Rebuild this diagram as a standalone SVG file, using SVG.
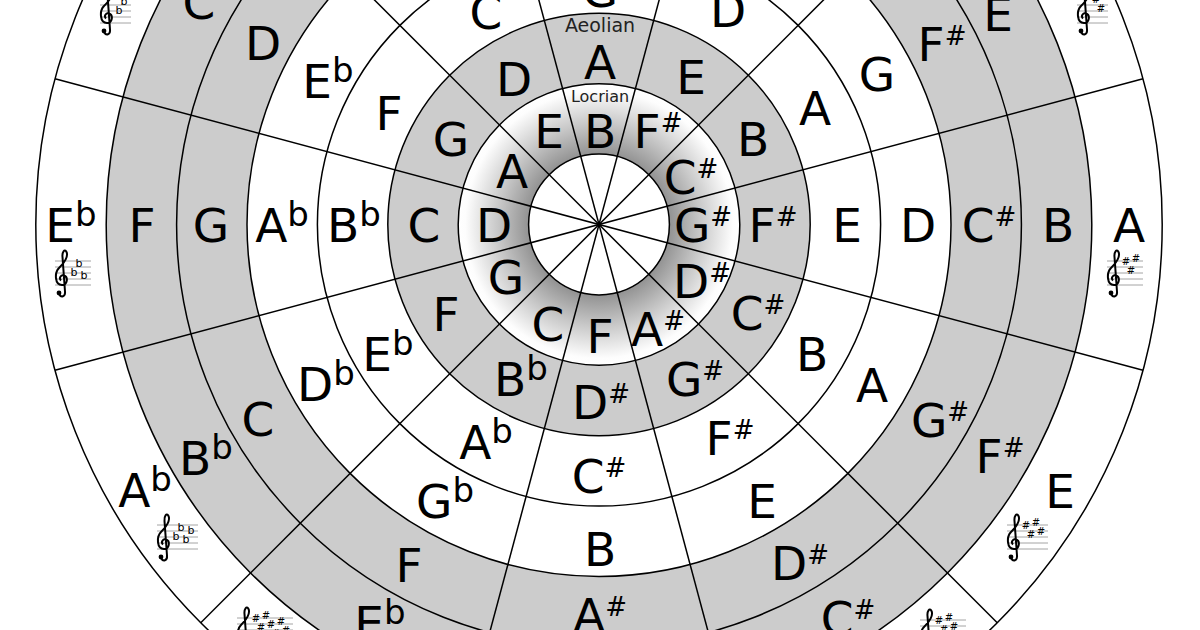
<svg xmlns="http://www.w3.org/2000/svg" width="1200" height="630" viewBox="0 0 1200 630">
<style>
.n{font-family:"DejaVu Sans","Liberation Sans",sans-serif;font-size:47px;text-anchor:middle;fill:#000}
.s{font-size:26px}
.f{font-size:34px}
.mode{font-family:"DejaVu Sans","Liberation Sans",sans-serif;text-anchor:middle;fill:#222}
.ring{fill:none;stroke:#000;stroke-width:1.5}
.spoke{stroke:#000;stroke-width:1.5;fill:none}
.st{stroke:#9a9a9a;stroke-width:0.9}
.acc{font-family:"DejaVu Sans","Liberation Sans",sans-serif;font-size:10px;text-anchor:middle;fill:#000}
.accb{font-family:"DejaVu Sans","Liberation Sans",sans-serif;font-size:11px;text-anchor:middle;fill:#000}
</style>
<defs>
<radialGradient id="loc" gradientUnits="userSpaceOnUse" cx="599" cy="224.5" r="140.8">
<stop offset="0" stop-color="#8e8e8e"/>
<stop offset="0.5" stop-color="#929292"/>
<stop offset="0.72" stop-color="#c8c8c8"/>
<stop offset="0.95" stop-color="#fdfdfd"/>
<stop offset="1" stop-color="#fff"/>
</radialGradient>
<g id="clef">
<path d="M4,21 C6,25 10.5,24 10,18.5 L7.5,-16 C7,-21 9.5,-24.5 11.5,-21 C13.5,-17 9.5,-10 4,-5 C-0.5,-0.5 -0.5,12 7,12 C12.5,12 13.5,4 9,2.5 C6,1.5 3.5,5 6,7.5" fill="none" stroke="#000" stroke-width="2"/>
<circle cx="4" cy="20" r="2.4" fill="#000"/>
</g>
</defs>
<rect width="1200" height="630" fill="#fff"/>
<g id="fills">
<circle cx="599" cy="224.5" r="492.8" fill="#ccc"/>
<circle cx="599" cy="224.5" r="352" fill="#fff"/>
<circle cx="599" cy="224.5" r="211.2" fill="#ccc"/>
<circle cx="599" cy="224.5" r="140.8" fill="url(#loc)"/>
<circle cx="599" cy="224.5" r="70.4" fill="#fff"/>
</g>
<g id="rings">
<circle class="ring" cx="599" cy="224.5" r="70.4"/>
<circle class="ring" cx="599" cy="224.5" r="140.8"/>
<circle class="ring" cx="599" cy="224.5" r="211.2"/>
<circle class="ring" cx="599" cy="224.5" r="281.6"/>
<circle class="ring" cx="599" cy="224.5" r="352"/>
<circle class="ring" cx="599" cy="224.5" r="422.4"/>
<circle class="ring" cx="599" cy="224.5" r="492.8"/>
<circle class="ring" cx="599" cy="224.5" r="563.2"/>
</g>
<g id="connectors">
<line class="spoke" x1="744.77" y1="-319.51" x2="453.23" y2="768.51"/>
<line class="spoke" x1="997.24" y1="-173.74" x2="200.76" y2="622.74"/>
<line class="spoke" x1="1143.01" y1="78.73" x2="54.99" y2="370.27"/>
<line class="spoke" x1="1143.01" y1="370.27" x2="54.99" y2="78.73"/>
<line class="spoke" x1="997.24" y1="622.74" x2="200.76" y2="-173.74"/>
<line class="spoke" x1="744.77" y1="768.51" x2="453.23" y2="-319.51"/>
</g>
<g id="ring-locrian">
<text class="mode" x="600" y="102" font-size="16">Locrian</text>
<text class="n" x="600" y="148">B</text>
<text class="n" x="658" y="148">F<tspan class="s" dy="-16">#</tspan></text>
<text class="n" x="691" y="194">C<tspan class="s" dy="-16">#</tspan></text>
<text class="n" x="703" y="242">G<tspan class="s" dy="-16">#</tspan></text>
<text class="n" x="702" y="298">D<tspan class="s" dy="-16">#</tspan></text>
<text class="n" x="658" y="346">A<tspan class="s" dy="-16">#</tspan></text>
<text class="n" x="600" y="353">F</text>
<text class="n" x="548" y="341">C</text>
<text class="n" x="506" y="294">G</text>
<text class="n" x="494" y="242">D</text>
<text class="n" x="512" y="188">A</text>
<text class="n" x="549" y="148">E</text>
</g>
<g id="ring-aeolian">
<text class="mode" x="600" y="32" font-size="19">Aeolian</text>
<text class="n" x="600" y="79">A</text>
<text class="n" x="691" y="94">E</text>
<text class="n" x="753" y="156">B</text>
<text class="n" x="773" y="242">F<tspan class="s" dy="-16">#</tspan></text>
<text class="n" x="758" y="330">C<tspan class="s" dy="-16">#</tspan></text>
<text class="n" x="695" y="396">G<tspan class="s" dy="-16">#</tspan></text>
<text class="n" x="601" y="419">D<tspan class="s" dy="-16">#</tspan></text>
<text class="n" x="521" y="396">B<tspan class="f" dy="-16">b</tspan></text>
<text class="n" x="446" y="331">F</text>
<text class="n" x="424" y="242">C</text>
<text class="n" x="451" y="156">G</text>
<text class="n" x="514" y="96">D</text>
</g>
<g id="ring-4">
<text class="n" x="600" y="7">G</text>
<text class="n" x="728" y="27">D</text>
<text class="n" x="815" y="125">A</text>
<text class="n" x="847" y="242">E</text>
<text class="n" x="812" y="371">B</text>
<text class="n" x="730" y="455">F<tspan class="s" dy="-16">#</tspan></text>
<text class="n" x="599" y="493">C<tspan class="s" dy="-16">#</tspan></text>
<text class="n" x="486" y="459">A<tspan class="f" dy="-16">b</tspan></text>
<text class="n" x="388" y="371">E<tspan class="f" dy="-16">b</tspan></text>
<text class="n" x="354" y="242">B<tspan class="f" dy="-16">b</tspan></text>
<text class="n" x="389" y="130">F</text>
<text class="n" x="486" y="29">C</text>
</g>
<g id="ring-5">
<text class="n" x="877" y="91">G</text>
<text class="n" x="918" y="242">D</text>
<text class="n" x="872" y="402">A</text>
<text class="n" x="762" y="518">E</text>
<text class="n" x="600" y="566">B</text>
<text class="n" x="445" y="518">G<tspan class="f" dy="-16">b</tspan></text>
<text class="n" x="326" y="401">D<tspan class="f" dy="-16">b</tspan></text>
<text class="n" x="282" y="242">A<tspan class="f" dy="-16">b</tspan></text>
<text class="n" x="328" y="98">E<tspan class="f" dy="-16">b</tspan></text>
</g>
<g id="ring-6">
<text class="n" x="942" y="61">F<tspan class="s" dy="-16">#</tspan></text>
<text class="n" x="989" y="242">C<tspan class="s" dy="-16">#</tspan></text>
<text class="n" x="940" y="437">G<tspan class="s" dy="-16">#</tspan></text>
<text class="n" x="800" y="580">D<tspan class="s" dy="-16">#</tspan></text>
<text class="n" x="600" y="632">A<tspan class="s" dy="-16">#</tspan></text>
<text class="n" x="409" y="582">F</text>
<text class="n" x="258" y="436">C</text>
<text class="n" x="211" y="242">G</text>
<text class="n" x="263" y="60">D</text>
</g>
<g id="ring-7">
<text class="n" x="998" y="31">E</text>
<text class="n" x="1058" y="242">B</text>
<text class="n" x="1000" y="473">F<tspan class="s" dy="-16">#</tspan></text>
<text class="n" x="848" y="635">C<tspan class="s" dy="-16">#</tspan></text>
<text class="n" x="380" y="640">E<tspan class="f" dy="-16">b</tspan></text>
<text class="n" x="206" y="475">B<tspan class="f" dy="-16">b</tspan></text>
<text class="n" x="142" y="242">F</text>
<text class="n" x="199" y="19">C</text>
</g>
<g id="ring-keys">
<text class="n" x="1129" y="242">A</text>
<text class="n" x="1060" y="508">E</text>
<text class="n" x="145" y="507">A<tspan class="f" dy="-16">b</tspan></text>
<text class="n" x="71" y="242">E<tspan class="f" dy="-16">b</tspan></text>
</g>
<g id="key-D" transform="translate(1077,11)">
<path class="st" d="M0,-12H31M0,-6H31M0,0H31M0,6H31M0,12H31"/>
<use href="#clef"/>
<text class="acc" x="19" y="-8.5">#</text><text class="acc" x="24" y="0.5">#</text>
</g>
<g id="key-A" transform="translate(1107,273)">
<path class="st" d="M0,-12H36M0,-6H36M0,0H36M0,6H36M0,12H36"/>
<use href="#clef"/>
<text class="acc" x="19" y="-8.5">#</text><text class="acc" x="24" y="0.5">#</text><text class="acc" x="29" y="-11.5">#</text>
</g>
<g id="key-E" transform="translate(1007,537)">
<path class="st" d="M0,-12H41M0,-6H41M0,0H41M0,6H41M0,12H41"/>
<use href="#clef"/>
<text class="acc" x="19" y="-8.5">#</text><text class="acc" x="24" y="0.5">#</text><text class="acc" x="29" y="-11.5">#</text><text class="acc" x="34" y="-2.5">#</text>
</g>
<g id="key-B" transform="translate(920,632)">
<path class="st" d="M0,-12H46M0,-6H46M0,0H46M0,6H46M0,12H46"/>
<use href="#clef"/>
<text class="acc" x="19" y="-8.5">#</text><text class="acc" x="24" y="0.5">#</text><text class="acc" x="29" y="-11.5">#</text><text class="acc" x="34" y="-2.5">#</text><text class="acc" x="39" y="6.5">#</text>
</g>
<g id="key-Csharp" transform="translate(237,630)">
<path class="st" d="M0,-12H56M0,-6H56M0,0H56M0,6H56M0,12H56"/>
<use href="#clef"/>
<text class="acc" x="19" y="-8.5">#</text><text class="acc" x="24" y="0.5">#</text><text class="acc" x="29" y="-11.5">#</text><text class="acc" x="34" y="-2.5">#</text><text class="acc" x="39" y="6.5">#</text><text class="acc" x="44" y="-5.5">#</text><text class="acc" x="49" y="3.5">#</text>
</g>
<g id="key-Ab" transform="translate(157,537)">
<path class="st" d="M0,-12H41M0,-6H41M0,0H41M0,6H41M0,12H41"/>
<use href="#clef"/>
<text class="accb" x="19" y="2.5">b</text><text class="accb" x="24" y="-6.5">b</text><text class="accb" x="29" y="5.5">b</text><text class="accb" x="34" y="-3.5">b</text>
</g>
<g id="key-Eb" transform="translate(55,273)">
<path class="st" d="M0,-12H36M0,-6H36M0,0H36M0,6H36M0,12H36"/>
<use href="#clef"/>
<text class="accb" x="19" y="2.5">b</text><text class="accb" x="24" y="-6.5">b</text><text class="accb" x="29" y="5.5">b</text>
</g>
<g id="key-Bb" transform="translate(100,11)">
<path class="st" d="M0,-12H31M0,-6H31M0,0H31M0,6H31M0,12H31"/>
<use href="#clef"/>
<text class="accb" x="19" y="2.5">b</text><text class="accb" x="24" y="-6.5">b</text>
</g>
</svg>
